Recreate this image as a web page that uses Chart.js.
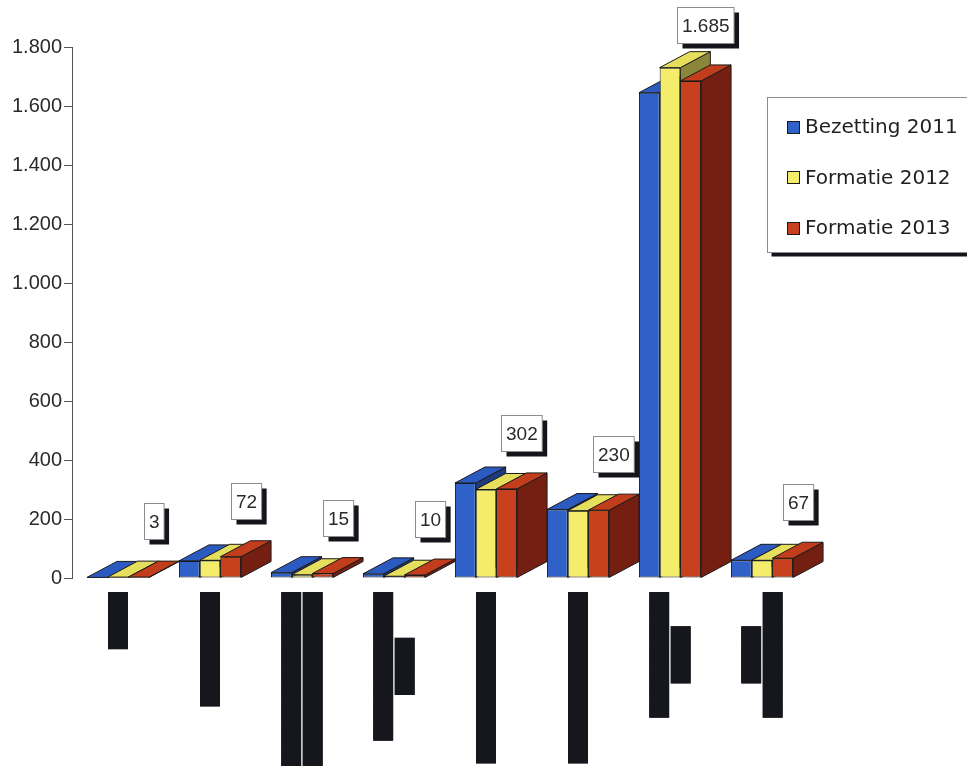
<!DOCTYPE html>
<html>
<head>
<meta charset="utf-8">
<script src="https://cdn.jsdelivr.net/npm/chart.js@4.4.1/dist/chart.umd.min.js"></script>
<style>
  html, body { margin: 0; background: #fff; }
  canvas { display: block; }
</style>
</head>
<body>
<canvas id="chart" width="967" height="766"></canvas>
<script>
// category labels are blacked out in the source, kept as redaction blocks
const categories = [
  ['█████'],
  ['██████████'],
  ['████████████████', '████████████████'],
  ['█████████████', '█████'],
  ['███████████████'],
  ['███████████████'],
  ['███████████', '█████'],
  ['█████', '███████████']
];
const seriesNames = ['Bezetting 2011', 'Formatie 2012', 'Formatie 2013'];
const bezetting2011 = [2, 58, 18, 14, 322, 232, 1645, 60];
const formatie2012  = [3, 60, 11, 6, 300, 228, 1730, 60];
const formatie2013  = [3, 72, 15, 10, 302, 230, 1685, 67];
const yTickLabels = ['0', '200', '400', '600', '800', '1.000', '1.200', '1.400', '1.600', '1.800'];

const frontColors = ['#2f61c8', '#f3ed6b', '#c8411e'];
const topColors   = ['#2b5bc0', '#e6df5e', '#c23d1c'];
const sideColors  = ['#1d3a7c', '#8a873a', '#741f12'];
const DX = 30, DY = -16;

function fmt(v) {
  return String(v).replace(/\B(?=(\d{3})+(?!\d))/g, '.');
}

function poly(ctx, pts, fill) {
  ctx.beginPath();
  ctx.moveTo(pts[0][0], pts[0][1]);
  for (let k = 1; k < pts.length; k++) ctx.lineTo(pts[k][0], pts[k][1]);
  ctx.closePath();
  ctx.fillStyle = fill;
  ctx.fill();
  ctx.stroke();
}

// top and side faces of each bar, fronts are drawn by chart.js afterwards
const depthFaces = {
  id: 'depthFaces',
  beforeDatasetsDraw(chart) {
    const ctx = chart.ctx;
    ctx.save();
    ctx.strokeStyle = '#1a1a1a';
    ctx.lineWidth = 1;
    ctx.lineJoin = 'round';
    chart.data.labels.forEach((_, j) => {
      chart.data.datasets.forEach((ds, i) => {
        const bar = chart.getDatasetMeta(i).data[j];
        const l = bar.x - bar.width / 2, r = bar.x + bar.width / 2;
        const t = bar.y, b = bar.base;
        poly(ctx, [[r, t], [r + DX, t + DY], [r + DX, b + DY], [r, b]], sideColors[i]);
        poly(ctx, [[l, t], [l + DX, t + DY], [r + DX, t + DY], [r, t]], topColors[i]);
      });
    });
    ctx.restore();
  }
};

// boxed value labels with shadow above the last series
const valueBoxes = {
  id: 'valueBoxes',
  afterDatasetsDraw(chart) {
    const ctx = chart.ctx;
    const meta = chart.getDatasetMeta(2);
    ctx.save();
    ctx.font = '19px "Liberation Sans", Arial, sans-serif';
    ctx.textAlign = 'center';
    ctx.textBaseline = 'middle';
    meta.data.forEach((bar, j) => {
      const txt = fmt(formatie2013[j]);
      const w = ctx.measureText(txt).width + 9, h = 36;
      const cx = bar.x + DX / 2;
      const bottom = bar.y - 38;
      const x = Math.round(cx - w / 2) + 0.5, y = Math.round(bottom - h) + 0.5;
      ctx.fillStyle = '#14151b';
      ctx.fillRect(x + 5, y + 5, w, h);
      ctx.fillStyle = '#fff';
      ctx.fillRect(x, y, w, h);
      ctx.strokeStyle = '#8c8c8c';
      ctx.lineWidth = 1;
      ctx.strokeRect(x, y, w, h);
      ctx.fillStyle = '#2a2a2a';
      ctx.fillText(txt, x + w / 2, y + h / 2 + 1);
    });
    ctx.restore();
  }
};

// redacted category labels under the axis
const redactedLabels = {
  id: 'redactedLabels',
  afterDraw(chart) {
    const ctx = chart.ctx;
    const xs = chart.scales.x;
    const top = chart.chartArea.bottom + 14;
    ctx.save();
    ctx.font = '19px "DejaVu Sans Mono", monospace';
    ctx.textAlign = 'center';
    ctx.textBaseline = 'middle';
    ctx.fillStyle = '#16171d';
    categories.forEach((lines, i) => {
      const cx = xs.getPixelForValue(i);
      const widths = lines.map(s => ctx.measureText(s).width);
      const mid = top + Math.max(...widths) / 2;
      lines.forEach((s, k) => {
        const lx = cx + (k - (lines.length - 1) / 2) * 21.5;
        ctx.save();
        ctx.translate(lx, mid);
        ctx.rotate(-Math.PI / 2);
        ctx.beginPath();
        ctx.rect(-widths[k] / 2, -10, widths[k], 20);
        ctx.fill();
        ctx.clip();
        ctx.fillText(s, 0, 0);
        ctx.restore();
      });
    });
    ctx.restore();
  }
};

// framed legend overlaid at the right
const boxLegend = {
  id: 'boxLegend',
  afterDraw(chart) {
    const ctx = chart.ctx;
    const x = 767.5, y = 97.5, w = 210, h = 155;
    ctx.save();
    ctx.fillStyle = '#14151b';
    ctx.fillRect(x + 4, y + 4, w, h);
    ctx.fillStyle = '#fff';
    ctx.fillRect(x, y, w, h);
    ctx.strokeStyle = '#8c8c8c';
    ctx.lineWidth = 1;
    ctx.strokeRect(x, y, w, h);
    ctx.font = '20px "DejaVu Sans", Verdana, sans-serif';
    ctx.textBaseline = 'middle';
    chart.data.datasets.forEach((ds, i) => {
      const cy = 127 + i * 50.5;
      ctx.fillStyle = ds.backgroundColor;
      ctx.fillRect(787.5, Math.round(cy - 6.5) + 0.5, 12, 12);
      ctx.strokeStyle = '#1a1a1a';
      ctx.strokeRect(787.5, Math.round(cy - 6.5) + 0.5, 12, 12);
      ctx.fillStyle = '#1f1f1f';
      ctx.fillText(ds.label, 805, cy + 1);
    });
    ctx.restore();
  }
};

const seriesData = [bezetting2011, formatie2012, formatie2013];

new Chart(document.getElementById('chart'), {
  type: 'bar',
  data: {
    labels: categories,
    datasets: seriesNames.map((name, i) => ({
      label: name,
      data: seriesData[i],
      backgroundColor: frontColors[i],
      borderColor: '#1a1a1a',
      borderWidth: 1,
      borderSkipped: false,
      barPercentage: 1,
      categoryPercentage: 0.675
    }))
  },
  options: {
    responsive: false,
    animation: false,
    events: [],
    layout: { padding: { top: 47, right: 159, bottom: 188, left: 0 } },
    plugins: {
      legend: { display: false },
      tooltip: { enabled: false }
    },
    scales: {
      x: { display: false },
      y: {
        min: 0,
        max: 1800,
        afterFit(scale) { scale.width = 72; },
        afterBuildTicks(scale) {
          scale.ticks = yTickLabels.map((_, k) => ({ value: k * 200 }));
        },
        ticks: {
          padding: 2,
          color: '#2a2a2a',
          font: { family: '"Liberation Sans", Arial, sans-serif', size: 20 },
          callback: (v, idx) => yTickLabels[idx]
        },
        grid: { drawOnChartArea: false, drawTicks: true, tickLength: 8, color: '#555' },
        border: { display: true, color: '#555', width: 1 }
      }
    }
  },
  plugins: [depthFaces, valueBoxes, redactedLabels, boxLegend]
});
</script>
</body>
</html>
